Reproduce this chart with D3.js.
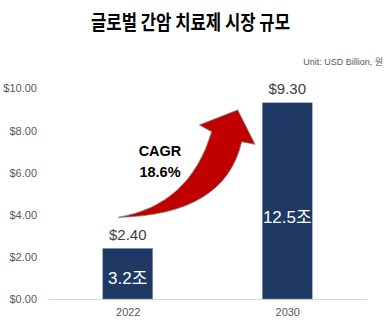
<!DOCTYPE html>
<html><head><meta charset="utf-8">
<script src="https://cdn.jsdelivr.net/npm/d3@7"></script>
<style>
html,body{margin:0;padding:0;background:#fff;}
svg{display:block;font-family:"Liberation Sans","Noto Sans CJK KR",sans-serif;}
</style></head>
<body>
<svg id="c" width="388" height="334"></svg>
<script>
const title = "글로벌 간암 치료제 시장 규모";
const unitLabel = "Unit: USD Billion, 원";
const categories = ["2022", "2030"];
const values = [2.40, 9.30];
const valueLabels = ["$2.40", "$9.30"];
const wonLabels = ["3.2조", "12.5조"];
const yTicks = [0, 2, 4, 6, 8, 10];
const cagrLines = ["CAGR", "18.6%"];
// arrow outline: [fraction between category centers, value]
const arrowTail = [-0.059, 3.87];
const arrowUpperCtrl = [0.39, 4.45];
const arrowLeftNotch = [0.526, 7.93];
const arrowLeftBarb = [0.449, 8.25];
const arrowTip = [0.689, 8.96];
const arrowRightBarb = [0.798, 7.33];
const arrowRightNotch = [0.714, 7.45];
const arrowLowerCtrl = [0.61, 3.98];

const svg = d3.select("#c");
const x = d3.scalePoint().domain(categories).range([48, 367]).padding(0.5);
const y = d3.scaleLinear().domain([0, 10]).range([299, 88]);
const barW = 50;

svg.append("text").attr("x", 190.5).attr("y", 30).attr("text-anchor", "middle")
  .attr("font-family", "'Noto Sans CJK KR'").attr("font-weight", 700).attr("font-size", 20)
  .attr("textLength", 199).attr("lengthAdjust", "spacingAndGlyphs")
  .attr("fill", "#000").text(title);

svg.append("text").attr("x", 383).attr("y", 65).attr("text-anchor", "end")
  .attr("font-size", 9).attr("fill", "#595959").text(unitLabel);

// y axis
const yAxis = d3.axisLeft(y).tickValues(yTicks).tickSize(0).tickPadding(0)
  .tickFormat(d => "$" + d3.format(".2f")(d));
const ya = svg.append("g").attr("transform", "translate(37,0)").call(yAxis);
ya.select(".domain").remove();
ya.selectAll("text").attr("font-size", 11).attr("fill", "#595959")
  .attr("font-family", "'Liberation Sans'").attr("dy", "0.35em");

// x axis
const xAxis = d3.axisBottom(x).tickSize(0).tickPadding(0);
const xa = svg.append("g").attr("transform", "translate(0,299)").call(xAxis);
xa.select(".domain").attr("stroke", "#d9d9d9").attr("stroke-width", 1);
xa.selectAll("text").attr("font-size", 11).attr("fill", "#595959")
  .attr("font-family", "'Liberation Sans'").attr("y", 17).attr("dy", 0);

// bars
svg.selectAll(".bar").data(values).join("rect").attr("class", "bar")
  .attr("x", (d, i) => x(categories[i]) - barW / 2)
  .attr("y", d => y(d)).attr("width", barW).attr("height", d => y(0) - y(d))
  .attr("fill", "#1f3864").attr("stroke", "#8ea0c0").attr("stroke-width", 0.5);

svg.selectAll(".vl").data(values).join("text").attr("class", "vl")
  .attr("x", (d, i) => x(categories[i])).attr("y", d => y(d) - 14)
  .attr("dy", "0.35em").attr("text-anchor", "middle").attr("font-size", 15)
  .attr("fill", "#404040").text((d, i) => valueLabels[i]);

svg.selectAll(".wl").data(values).join("text").attr("class", "wl")
  .attr("x", (d, i) => x(categories[i])).attr("y", d => y(d * 0.42))
  .attr("dy", "0.35em").attr("text-anchor", "middle").attr("font-size", 17)
  .attr("fill", "#fff").text((d, i) => wonLabels[i]);

// arrow
const x0 = x(categories[0]), x1 = x(categories[1]);
const P = p => [x0 + p[0] * (x1 - x0), y(p[1])];
const path = d3.path();
const t = P(arrowTail), uc = P(arrowUpperCtrl), ln = P(arrowLeftNotch), lb = P(arrowLeftBarb),
  tip = P(arrowTip), rb = P(arrowRightBarb), rn = P(arrowRightNotch), lc = P(arrowLowerCtrl);
path.moveTo(...t);
path.quadraticCurveTo(uc[0], uc[1], ln[0], ln[1]);
path.lineTo(...lb); path.lineTo(...tip); path.lineTo(...rb); path.lineTo(...rn);
path.quadraticCurveTo(lc[0], lc[1], t[0], t[1]);
path.closePath();
svg.append("path").attr("d", path.toString()).attr("fill", "#c00000")
  .attr("stroke", "#7f7f7f").attr("stroke-width", 0.8).attr("stroke-linejoin", "miter");

svg.selectAll(".cagr").data(cagrLines).join("text").attr("class", "cagr")
  .attr("x", 160).attr("y", (d, i) => 151 + i * 21.3).attr("dy", "0.35em")
  .attr("text-anchor", "middle").attr("font-size", 14.5).attr("font-weight", 700)
  .attr("fill", "#000").text(d => d);
</script>
</body></html>
